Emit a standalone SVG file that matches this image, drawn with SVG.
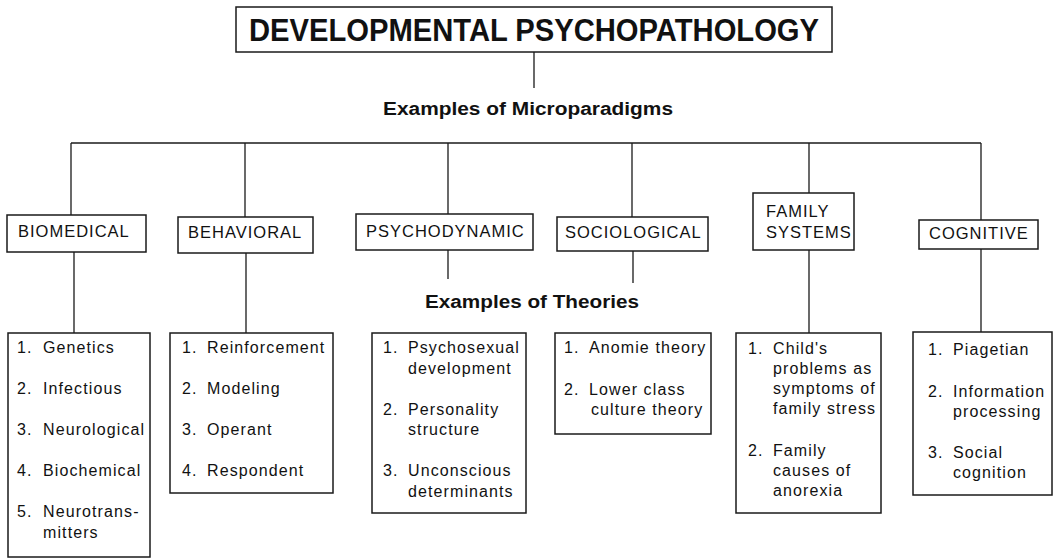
<svg xmlns="http://www.w3.org/2000/svg" width="1053" height="558" viewBox="0 0 1053 558">
<style>
.box{fill:#fff;stroke:#1a1a1a;stroke-width:1.5}
.ln{stroke:#1a1a1a;stroke-width:1.3;fill:none}
.t{font-family:"Liberation Sans",Arial,Helvetica,sans-serif;fill:#111}
.cat{font-size:16.5px;letter-spacing:1px}
.it{font-size:16px;letter-spacing:1.1px}
.hd{font-size:18px;font-weight:bold}
.title{font-size:32px;font-weight:bold}
</style>
<rect width="1053" height="558" fill="#fff"/>
<g id="connectors">
<line class="ln" x1="534" y1="52" x2="534" y2="88"/>
<line class="ln" x1="71" y1="143" x2="981" y2="143"/>
<line class="ln" x1="71" y1="143" x2="71" y2="215"/>
<line class="ln" x1="245" y1="143" x2="245" y2="217"/>
<line class="ln" x1="448" y1="143" x2="448" y2="214"/>
<line class="ln" x1="632" y1="143" x2="632" y2="217"/>
<line class="ln" x1="809" y1="143" x2="809" y2="193"/>
<line class="ln" x1="981" y1="143" x2="981" y2="220"/>
<line class="ln" x1="74" y1="252" x2="74" y2="333"/>
<line class="ln" x1="246" y1="253" x2="246" y2="333"/>
<line class="ln" x1="448" y1="250" x2="448" y2="279"/>
<line class="ln" x1="633" y1="251" x2="633" y2="283"/>
<line class="ln" x1="809" y1="250" x2="809" y2="333"/>
<line class="ln" x1="981" y1="249" x2="981" y2="332"/>
</g>
<g id="title">
<rect class="box" x="236" y="7" width="596" height="45"/>
<text class="t title" x="534" y="41" text-anchor="middle" textLength="570" lengthAdjust="spacingAndGlyphs">DEVELOPMENTAL PSYCHOPATHOLOGY</text>
</g>
<g id="label-microparadigms">
<text class="t hd" x="383" y="115" textLength="290" lengthAdjust="spacingAndGlyphs">Examples of Microparadigms</text>
</g>
<g id="label-theories">
<text class="t hd" x="425" y="308" textLength="214" lengthAdjust="spacingAndGlyphs">Examples of Theories</text>
</g>
<g id="biomedical">
<rect class="box" x="7" y="215" width="139" height="37"/>
<text class="t cat" x="18" y="237">BIOMEDICAL</text>
</g>
<g id="behavioral">
<rect class="box" x="178" y="217" width="135" height="36"/>
<text class="t cat" x="188" y="238">BEHAVIORAL</text>
</g>
<g id="psychodynamic">
<rect class="box" x="356" y="214" width="177" height="36"/>
<text class="t cat" x="366" y="237">PSYCHODYNAMIC</text>
</g>
<g id="sociological">
<rect class="box" x="557" y="217" width="151" height="34"/>
<text class="t cat" x="565" y="238">SOCIOLOGICAL</text>
</g>
<g id="family-systems">
<rect class="box" x="753" y="193" width="101" height="57"/>
<text class="t cat" x="766" y="217">FAMILY</text>
<text class="t cat" x="766" y="238">SYSTEMS</text>
</g>
<g id="cognitive">
<rect class="box" x="919" y="220" width="119" height="29"/>
<text class="t cat" x="929" y="239">COGNITIVE</text>
</g>
<g id="biomedical-theories">
<rect class="box" x="8" y="333" width="142" height="224"/>
<text class="t it" y="353"><tspan x="17">1.</tspan><tspan x="43">Genetics</tspan></text>
<text class="t it" y="394"><tspan x="17">2.</tspan><tspan x="43">Infectious</tspan></text>
<text class="t it" y="435"><tspan x="17">3.</tspan><tspan x="43">Neurological</tspan></text>
<text class="t it" y="476"><tspan x="17">4.</tspan><tspan x="43">Biochemical</tspan></text>
<text class="t it" y="517"><tspan x="17">5.</tspan><tspan x="43">Neurotrans-</tspan></text>
<text class="t it" x="43" y="538">mitters</text>
</g>
<g id="behavioral-theories">
<rect class="box" x="170" y="333" width="163" height="160"/>
<text class="t it" y="353"><tspan x="182">1.</tspan><tspan x="207">Reinforcement</tspan></text>
<text class="t it" y="394"><tspan x="182">2.</tspan><tspan x="207">Modeling</tspan></text>
<text class="t it" y="435"><tspan x="182">3.</tspan><tspan x="207">Operant</tspan></text>
<text class="t it" y="476"><tspan x="182">4.</tspan><tspan x="207">Respondent</tspan></text>
</g>
<g id="psychodynamic-theories">
<rect class="box" x="372" y="333" width="154" height="180"/>
<text class="t it" y="353"><tspan x="383">1.</tspan><tspan x="408">Psychosexual</tspan></text>
<text class="t it" x="408" y="374">development</text>
<text class="t it" y="415"><tspan x="383">2.</tspan><tspan x="408">Personality</tspan></text>
<text class="t it" x="408" y="435">structure</text>
<text class="t it" y="476"><tspan x="383">3.</tspan><tspan x="408">Unconscious</tspan></text>
<text class="t it" x="408" y="497">determinants</text>
</g>
<g id="sociological-theories">
<rect class="box" x="555" y="333" width="156" height="101"/>
<text class="t it" y="353"><tspan x="564">1.</tspan><tspan x="589">Anomie theory</tspan></text>
<text class="t it" y="395"><tspan x="564">2.</tspan><tspan x="589">Lower class</tspan></text>
<text class="t it" x="591" y="415">culture theory</text>
</g>
<g id="family-theories">
<rect class="box" x="736" y="333" width="145" height="180"/>
<text class="t it" y="354"><tspan x="748">1.</tspan><tspan x="773">Child's</tspan></text>
<text class="t it" x="773" y="374">problems as</text>
<text class="t it" x="773" y="394">symptoms of</text>
<text class="t it" x="773" y="414">family stress</text>
<text class="t it" y="456"><tspan x="748">2.</tspan><tspan x="773">Family</tspan></text>
<text class="t it" x="773" y="476">causes of</text>
<text class="t it" x="773" y="496">anorexia</text>
</g>
<g id="cognitive-theories">
<rect class="box" x="913" y="332" width="139" height="163"/>
<text class="t it" y="355"><tspan x="928">1.</tspan><tspan x="953">Piagetian</tspan></text>
<text class="t it" y="397"><tspan x="928">2.</tspan><tspan x="953">Information</tspan></text>
<text class="t it" x="953" y="417">processing</text>
<text class="t it" y="458"><tspan x="928">3.</tspan><tspan x="953">Social</tspan></text>
<text class="t it" x="953" y="478">cognition</text>
</g>
</svg>
